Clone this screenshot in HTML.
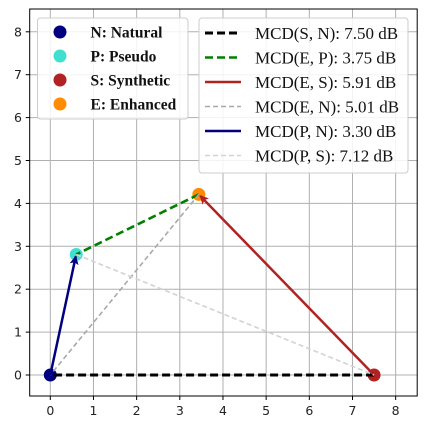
<!DOCTYPE html>
<html><head><meta charset="utf-8"><style>
body{margin:0;background:#fff;}
svg{display:block;}
.tk{font-family:"DejaVu Sans","Liberation Sans",sans-serif;font-size:12.5px;fill:#222;}
.l1{font-family:"Liberation Serif",serif;font-weight:bold;font-size:15.5px;fill:#111;}
.l2{font-family:"Liberation Serif",serif;font-size:17px;fill:#111;}
</style></head><body>
<svg id="chart" width="427" height="430" xmlns="http://www.w3.org/2000/svg">
<defs>
<marker id="ah-navy" markerWidth="9" markerHeight="9" refX="8" refY="4.5" orient="auto" markerUnits="userSpaceOnUse"><path d="M0,0 L9,4.5 L0,9 L2,4.5 Z" fill="navy"/></marker>
<marker id="ah-red" markerWidth="9" markerHeight="9" refX="8" refY="4.5" orient="auto" markerUnits="userSpaceOnUse"><path d="M0,0 L9,4.5 L0,9 L2,4.5 Z" fill="firebrick"/></marker>
</defs>
<g id="grid"></g><g id="lines"></g><g id="pts"></g><g id="ticks"></g>
<rect x="29.7" y="9" width="387.5" height="387" fill="none" stroke="#000" stroke-width="1"/>
<g id="legend1">
<rect x="37.5" y="18" width="150.5" height="101" rx="3" fill="#fff" fill-opacity="0.85" stroke="#ccc"/>
</g>
<g id="legend2">
<rect x="199" y="18" width="209" height="155" rx="3" fill="#fff" fill-opacity="0.85" stroke="#ccc"/>
</g>
</svg>
<script>
const ticksX=[0,1,2,3,4,5,6,7,8];
const ticksY=[0,1,2,3,4,5,6,7,8];
const pointNames=["N","P","S","E"];
const pointLabels=["N: Natural","P: Pseudo","S: Synthetic","E: Enhanced"];
const pointX=[0,0.6,7.5,3.44];
const pointY=[0,2.81,0,4.21];
const pointColors=["navy","turquoise","firebrick","darkorange"];
const pairFrom=["S","E","S","E","N","P"];
const pairTo=["N","P","E","N","P","S"];
const pairValues=[7.50,3.75,5.91,5.01,3.30,7.12];
const pairLabels=["MCD(S, N)","MCD(E, P)","MCD(E, S)","MCD(E, N)","MCD(P, N)","MCD(P, S)"];
const pairColors=["black","green","firebrick","darkgray","navy","lightgray"];
const pairDash=["8,4","8,4","","5,3","","5,3"];
const pairWidth=[3,2.6,2.5,1.6,2.5,1.6];
const pairArrow=[false,false,true,false,true,false];

const NS="http://www.w3.org/2000/svg";
const sx=v=>50.3+v*43.17, sy=v=>375-v*42.9;
function mk(t,a,p){const e=document.createElementNS(NS,t);for(const k in a)e.setAttribute(k,a[k]);p.appendChild(e);return e;}
const g=document.getElementById('grid'),tk=document.getElementById('ticks');
ticksX.forEach(v=>{
 const l=mk('line',{x1:sx(v),x2:sx(v),y1:9,y2:396,stroke:'#b0b0b0','stroke-width':1},g);
 
 
 mk('line',{x1:sx(v),x2:sx(v),y1:396,y2:400,stroke:'#000'},tk);
 const t=mk('text',{x:sx(v),y:415,'text-anchor':'middle',class:'tk'},tk);t.textContent=v;
 
 
});
ticksY.forEach(v=>{
 const l=mk('line',{x1:29.7,x2:417,y1:sy(v),y2:sy(v),stroke:'#b0b0b0','stroke-width':1},g);
 
 
 mk('line',{x1:25.7,x2:29.7,y1:sy(v),y2:sy(v),stroke:'#000'},tk);
 const t=mk('text',{x:22,y:sy(v)+4.5,'text-anchor':'end',class:'tk'},tk);t.textContent=v;
 
 
});
const idx=n=>pointNames.indexOf(n);
const lg=document.getElementById('lines');
pairFrom.forEach((f,i)=>{
 const a=idx(f),b=idx(pairTo[i]);
 let x1=sx(pointX[a]),y1=sy(pointY[a]),x2=sx(pointX[b]),y2=sy(pointY[b]);
 const at={x1,y1,x2,y2,stroke:pairColors[i],'stroke-width':pairWidth[i]};
 if(pairDash[i])at['stroke-dasharray']=pairDash[i];
 if(pairArrow[i]){at['marker-end']='url(#ah-'+(pairColors[i]=='navy'?'navy':'red')+')';
   const dx=x2-x1,dy=y2-y1,L=Math.hypot(dx,dy);at.x2=x2-dx/L*2;at.y2=y2-dy/L*2;}
 const l=mk('line',at,lg);
 
 
});
const pg=document.getElementById('pts');
pointNames.forEach((n,i)=>{
 const c=mk('circle',{cx:sx(pointX[i]),cy:sy(pointY[i]),r:6.5,fill:pointColors[i]},pg);
 
 
});
pg.parentNode.insertBefore(pg,lg);
const l1=document.getElementById('legend1');
pointLabels.forEach((s,i)=>{
 const y=32+i*24;
 const c=mk('circle',{cx:60,cy:y,r:6.5,fill:pointColors[i]},l1);
 
 
 const t=mk('text',{x:90.5,y:y+5.5,class:'l1'},l1);t.textContent=s;
 
 
});
const l2=document.getElementById('legend2');
pairLabels.forEach((s,i)=>{
 const y=33+i*24.5;
 const at={x1:205,x2:241,y1:y,y2:y,stroke:pairColors[i],'stroke-width':pairWidth[i]};
 if(pairDash[i])at['stroke-dasharray']=pairDash[i];
 const l=mk('line',at,l2);
 
 
 const t=mk('text',{x:255,y:y+6,class:'l2'},l2);t.textContent=s+': '+pairValues[i].toFixed(2)+' dB';
 
 
});
</script>
</body></html>
